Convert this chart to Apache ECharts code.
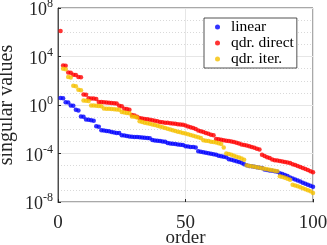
<!DOCTYPE html>
<html>
<head>
<meta charset="utf-8">
<script src="https://cdn.jsdelivr.net/npm/echarts@6/dist/echarts.min.js"></script>
<style>html,body{margin:0;padding:0;background:#fff;}#c{width:327px;height:245px;}</style>
</head>
<body>
<div id="c"></div>
<script>
const order = [1,2,3,4,5,6,7,8,9,10,11,12,13,14,15,16,17,18,19,20,21,22,23,24,25,26,27,28,29,30,31,32,33,34,35,36,37,38,39,40,41,42,43,44,45,46,47,48,49,50,51,52,53,54,55,56,57,58,59,60,61,62,63,64,65,66,67,68,69,70,71,72,73,74,75,76,77,78,79,80,81,82,83,84,85,86,87,88,89,90,91,92,93,94,95,96,97,98,99,100];

const linear = [3.8,3.6,1.7,1.6,0.89,0.85,0.40,0.35,0.11,0.105,
0.063,0.060,0.055,0.050,0.018,0.016,0.0083,0.0078,0.0072,0.0069,
0.0058,0.0054,0.0050,0.0048,0.0032,0.0030,0.0028,0.0025,0.0024,0.0023,
0.0023,0.0022,0.0021,0.0020,0.0019,0.0018,0.0013,0.0012,0.0011,0.00105,
1.0e-3,9.1e-4,7.2e-4,6.8e-4,6.3e-4,6.0e-4,5.6e-4,5.2e-4,5.0e-4,4.0e-4,
3.8e-4,3.5e-4,3.4e-4,3.2e-4,1.5e-4,1.4e-4,1.26e-4,1.15e-4,1.05e-4,9.5e-5,
8.7e-5,7.9e-5,6.6e-5,6.0e-5,5.5e-5,5.0e-5,3.3e-5,3.0e-5,2.6e-5,2.3e-5,
2.0e-5,1.7e-5,1.3e-5,1.05e-5,9.5e-6,8.7e-6,7.9e-6,7.4e-6,6.8e-6,6.3e-6,
4.7e-6,4.3e-6,4.0e-6,3.7e-6,3.5e-6,3.2e-6,2.4e-6,2.0e-6,1.66e-6,1.38e-6,
1.05e-6,8.7e-7,7.2e-7,6.0e-7,5.0e-7,3.8e-7,3.2e-7,2.6e-7,2.2e-7,1.8e-7];

const qdrDirect = [1.26e6,1.8e3,1.74e3,480,457,309,295,200,190,7.2,
6.9,3.6,3.5,3.4,3.2,1.8,1.74,1.66,1.58,1.55,
1.48,1.41,1.32,0.87,0.79,0.50,0.46,0.40,0.15,0.138,
0.105,0.083,0.076,0.071,0.066,0.060,0.055,0.050,0.045,0.040,
0.038,0.035,0.034,0.032,0.030,0.028,0.026,0.025,0.023,0.020,
0.017,0.0145,0.0126,0.0105,0.0079,0.0069,0.0060,0.0050,0.0043,0.0036,
0.0032,0.0016,0.00148,0.00138,0.00126,0.00115,0.00107,0.0010,8.9e-4,7.6e-4,
6.6e-4,5.6e-4,5.0e-4,4.5e-4,4.0e-4,3.5e-4,3.0e-4,2.5e-4,2.1e-4,7.9e-5,
6.3e-5,5.0e-5,4.2e-5,3.2e-5,2.8e-5,2.6e-5,2.4e-5,2.2e-5,2.0e-5,1.8e-5,
1.66e-5,1.3e-5,1.1e-5,9.1e-6,7.6e-6,6.3e-6,5.2e-6,4.4e-6,3.5e-6,2.8e-6];

const qdrIter = [null,955,890,200,186,38,35,17.8,16.6,2.34,
2.24,2.14,0.93,0.89,0.85,0.81,0.78,0.52,0.50,0.48,
0.46,0.44,0.42,0.40,0.26,0.24,0.224,0.21,0.115,0.105,
0.091,0.045,0.040,0.035,0.032,0.028,0.025,0.022,0.019,0.0166,
0.0145,0.0126,0.011,0.0095,0.0083,0.0072,0.0063,0.0056,0.0050,0.0044,
0.0038,0.0033,0.0029,0.0025,0.0022,0.0019,0.00126,0.00115,0.00105,9.5e-4,
8.7e-4,7.9e-4,7.1e-4,6.0e-4,3.2e-4,1.0e-4,9.1e-5,7.9e-5,6.6e-5,5.5e-5,
4.6e-5,3.8e-5,3.0e-5,1.05e-5,9.5e-6,8.7e-6,7.9e-6,7.2e-6,6.6e-6,6.0e-6,
5.5e-6,5.0e-6,4.6e-6,4.2e-6,3.8e-6,3.5e-6,1.32e-6,1.15e-6,1.0e-6,8.3e-7,
6.9e-7,2.6e-7,2.3e-7,2.0e-7,1.66e-7,1.38e-7,1.15e-7,9.5e-8,7.6e-8,5.6e-8];

const seriesNames = ['linear', 'qdr. direct', 'qdr. iter.'];
const xTicks = [0, 50, 100];
const yTickExps = [-8, -4, 0, 4, 8];

const font = 'Liberation Serif';
function pairs(vals) { return order.map((x, i) => [x, vals[i]]); }

const chart = echarts.init(document.getElementById('c'), null, {renderer: 'canvas'});
const yBase = {
  type: 'log', logBase: 10, min: 1e-8, max: 1e8
};
chart.setOption({
  animation: false,
  backgroundColor: '#fff',
  grid: {left: 58, right: 14, top: 8, bottom: 43, show: true, borderColor: '#262626', borderWidth: 0.8,
         containLabel: false, outerBoundsMode: 'none'},
  legend: {
    orient: 'vertical', left: 204, top: 18,
    data: seriesNames,
    icon: 'circle', itemWidth: 5, itemHeight: 5, itemGap: 0,
    padding: [1, 3, 1, 11],
    backgroundColor: '#fff', borderColor: '#262626', borderWidth: 0.8, borderRadius: 0,
    textStyle: {fontFamily: font, fontSize: 15.5, color: '#000', padding: [0, 0, 0, 6]}
  },
  xAxis: {
    type: 'value', min: xTicks[0], max: xTicks[xTicks.length - 1], interval: xTicks[1] - xTicks[0],
    name: 'order', nameLocation: 'middle', nameGap: 27, nameMoveOverlap: false,
    nameTextStyle: {fontFamily: font, fontSize: 19, color: '#262626'},
    axisLine: {show: true, lineStyle: {color: '#262626', width: 0.8}},
    axisTick: {show: true, inside: true, length: 3, lineStyle: {color: '#262626'}},
    axisLabel: {fontFamily: font, fontSize: 19, color: '#262626', margin: 12},
    splitLine: {show: true, lineStyle: {color: '#e6e6e6', width: 1}}
  },
  yAxis: [
    Object.assign({}, yBase, {
      interval: 4,
      name: 'singular values', nameLocation: 'middle', nameGap: 41, nameRotate: 90, nameMoveOverlap: false,
      nameTextStyle: {fontFamily: font, fontSize: 20, color: '#262626'},
      axisLine: {show: true, lineStyle: {color: '#262626', width: 0.8}},
      axisTick: {show: true, inside: true, length: 3, lineStyle: {color: '#262626'}},
      axisLabel: {
        margin: 5,
        formatter: function (v) {
          const e = Math.round(Math.log10(v));
          return yTickExps.indexOf(e) >= 0 ? '{b|10}{s|' + e + '}' : '';
        },
        rich: {
          b: {fontFamily: font, fontSize: 18, color: '#262626', padding: [5, 0, 0, 0]},
          s: {fontFamily: font, fontSize: 12, color: '#262626', padding: [0, 0, 8, 0]}
        }
      },
      splitLine: {show: true, lineStyle: {color: '#e6e6e6', width: 1}},
      z: 3
    }),
    Object.assign({}, yBase, {
      interval: 1,
      axisLine: {show: false},
      axisTick: {show: false},
      axisLabel: {show: false},
      splitLine: {show: true, lineStyle: {color: '#d9d9d9', width: 1, type: [1, 2]}},
      z: 1
    })
  ],
  series: [
    {name: seriesNames[0], type: 'scatter', data: pairs(linear), symbol: 'circle', symbolSize: 4.5,
     itemStyle: {color: '#0000ff'}, z: 3},
    {name: seriesNames[1], type: 'scatter', data: pairs(qdrDirect), symbol: 'circle', symbolSize: 4.5,
     itemStyle: {color: '#ff0000'}, z: 4},
    {name: seriesNames[2], type: 'scatter', data: pairs(qdrIter), symbol: 'circle', symbolSize: 4.5,
     itemStyle: {color: '#f5c000'}, z: 5}
  ]
});
</script>
</body>
</html>
